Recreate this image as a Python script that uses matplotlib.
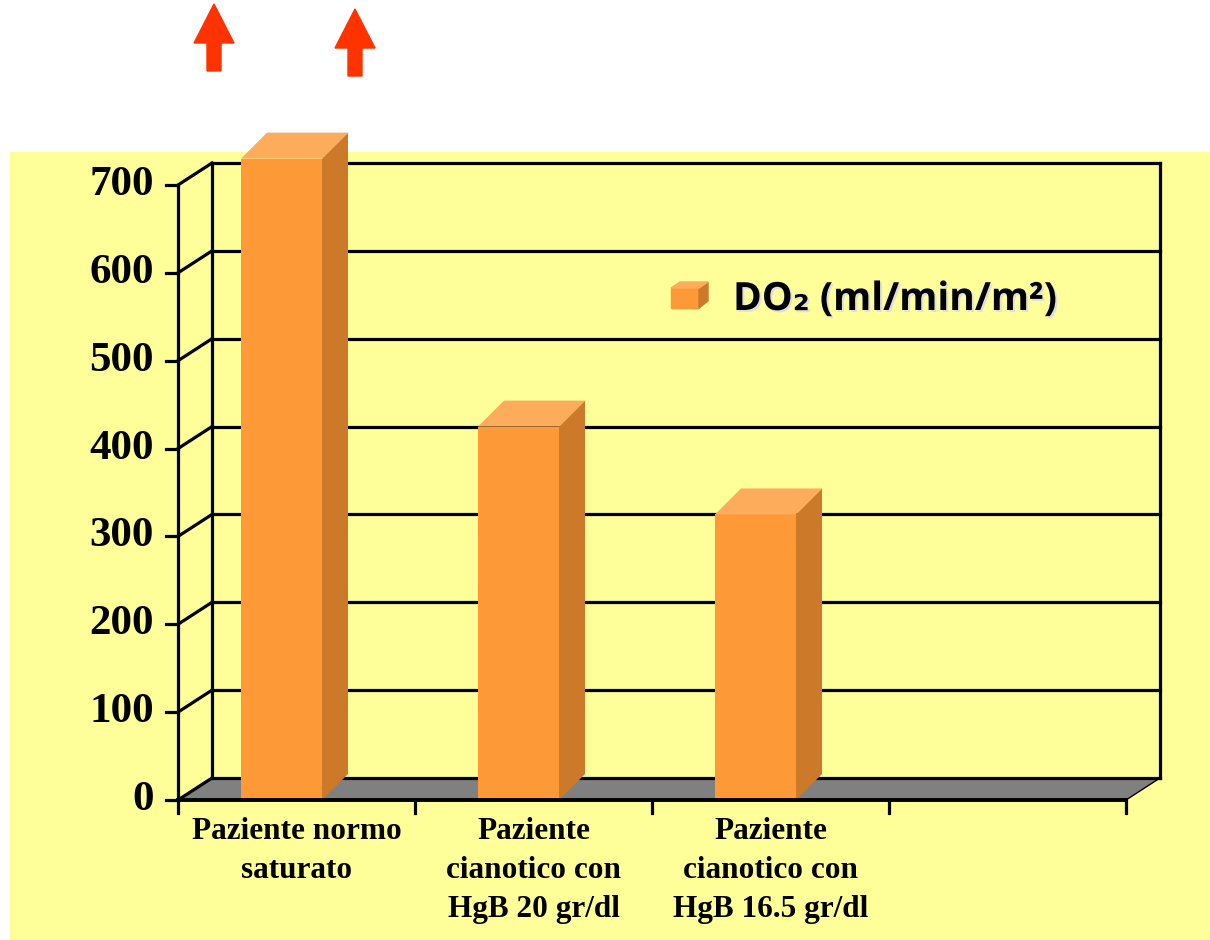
import matplotlib
matplotlib.use("Agg")
import matplotlib.pyplot as plt
from matplotlib.patches import Polygon, Rectangle
import matplotlib.patheffects as pe

# data
categories = ["Paziente normo\nsaturato",
              "Paziente\ncianotico con\nHgB 20 gr/dl",
              "Paziente\ncianotico con\nHgB 16.5 gr/dl",
              ""]
do2 = [730, 425, 325]
y_ticks = [0, 100, 200, 300, 400, 500, 600, 700]
legend_label = "DO\u2082 (ml/min/m\u00b2)"

# colours
panel_col = "#FFFF99"
floor_col = "#808080"
front_col = "#FD9937"
side_col = "#CC7A2A"
top_col = "#FCAC5A"
arrow_col = "#FF3300"

# layout in pixels (origin top-left)
W, H = 1210, 940
X0, Y0 = 178, 800          # front origin of the plot
CAT_PX = 237               # width of one category slot
VAL_PX = 615 / 700         # pixels per unit of value
WALL_DX, WALL_DY = 34, 22  # depth of the back wall
BAR_DX, BAR_DY = 26, 26    # depth of the columns
BAR_W = 81 / CAT_PX
BAR_SHIFT = -15 / CAT_PX

fig = plt.figure(figsize=(W / 100, H / 100), dpi=100)
fig.patch.set_facecolor("white")
ax = fig.add_axes([0, 0, 1, 1])
ax.set_zorder(2)
ax.set_xlim(-0.5 - X0 / CAT_PX, -0.5 + (W - X0) / CAT_PX)
ax.set_ylim(-(H - Y0) / VAL_PX, Y0 / VAL_PX)
ax.axis("off")


def fig_xy(px, py):
    return (px / W, 1 - py / H)


# yellow chart panel
fig.patches.append(Rectangle(fig_xy(10, 940), 1200 / W, 788 / H,
                             transform=fig.transFigure, color=panel_col, zorder=0))

# red arrows above the chart
def arrow(cx, top, bottom):
    hw, sw, head = 20, 7, 39
    pts = [(cx, top), (cx + hw, top + head), (cx + sw, top + head),
           (cx + sw, bottom), (cx - sw, bottom), (cx - sw, top + head),
           (cx - hw, top + head)]
    fig.patches.append(Polygon([fig_xy(*p) for p in pts], closed=True,
                               transform=fig.transFigure, color=arrow_col, zorder=1))


arrow(214, 4, 71)
arrow(355, 9, 76)

n = len(categories)
x_left, x_right = -0.5, n - 0.5
wdx, wdy = WALL_DX / CAT_PX, WALL_DY / VAL_PX
bdx, bdy = BAR_DX / CAT_PX, BAR_DY / VAL_PX
ymax = y_ticks[-1]
lw = 2.3

# floor
ax.add_patch(Polygon([(x_left, 0), (x_right, 0), (x_right + wdx, wdy), (x_left + wdx, wdy)],
                     closed=True, facecolor=floor_col, edgecolor="none", zorder=1))
ax.plot([x_right, x_right + wdx], [0, wdy], color="black", lw=1, zorder=2)

# back wall grid, diagonals and front ticks
for v in y_ticks:
    ax.plot([x_left + wdx, x_right + wdx], [v + wdy, v + wdy], color="black", lw=lw, zorder=2)
    ax.plot([x_left, x_left + wdx], [v, v + wdy], color="black", lw=lw, zorder=2)
    ax.plot([x_left - 12 / CAT_PX, x_left], [v, v], color="black", lw=lw, zorder=3)
    ax.text(x_left - 24 / CAT_PX, v, str(v), ha="right", va="center",
            family="Liberation Serif", weight="bold", fontsize=31, zorder=3)
ax.plot([x_left + wdx] * 2, [wdy, ymax + wdy], color="black", lw=lw, zorder=2)
ax.plot([x_right + wdx] * 2, [wdy, ymax + wdy], color="black", lw=lw, zorder=2)
ax.plot([x_left] * 2, [0, ymax], color="black", lw=lw, zorder=3)

# category axis
ax.plot([x_left, x_right], [0, 0], color="black", lw=lw + 0.5, zorder=5)
for i in range(n + 1):
    ax.plot([i - 0.5] * 2, [0, -13 / VAL_PX], color="black", lw=lw, zorder=5)
for i, lab in enumerate(categories):
    ax.text(i, -17 / VAL_PX, lab, ha="center", va="top", linespacing=1.45,
            family="Liberation Serif", weight="bold", fontsize=22.5, zorder=5)

# 3d columns
xs = [i + BAR_SHIFT for i in range(len(do2))]
ax.bar(xs, do2, width=BAR_W, color=front_col, zorder=4, clip_on=False)
for x, v in zip(xs, do2):
    l, r = x - BAR_W / 2, x + BAR_W / 2
    ax.add_patch(Polygon([(r, 0), (r + bdx, bdy), (r + bdx, v + bdy), (r, v)],
                         closed=True, facecolor=side_col, edgecolor="none",
                         zorder=4, clip_on=False))
    ax.add_patch(Polygon([(l, v), (l + bdx, v + bdy), (r + bdx, v + bdy), (r, v)],
                         closed=True, facecolor=top_col, edgecolor="none",
                         zorder=4, clip_on=False))

# legend
box = [(671, 308), (699, 308), (699, 288), (671, 288)]
fig.patches.append(Polygon([fig_xy(*p) for p in box], transform=fig.transFigure,
                           color=front_col, zorder=6))
fig.patches.append(Polygon([fig_xy(*p) for p in [(699, 308), (708, 301), (708, 282), (699, 288)]],
                           transform=fig.transFigure, color=side_col, zorder=6))
fig.patches.append(Polygon([fig_xy(*p) for p in [(671, 288), (680, 282), (708, 282), (699, 288)]],
                           transform=fig.transFigure, color=top_col, zorder=6))
fig.text(*fig_xy(733, 310), legend_label, ha="left", va="baseline", zorder=6,
         family=["Open Sans", "DejaVu Sans"], weight="bold", fontsize=28,
         path_effects=[pe.withSimplePatchShadow(offset=(1.5, -1.5), shadow_rgbFace="#DDDDDD", alpha=0.9)])

fig.savefig("out.png", dpi=100)
